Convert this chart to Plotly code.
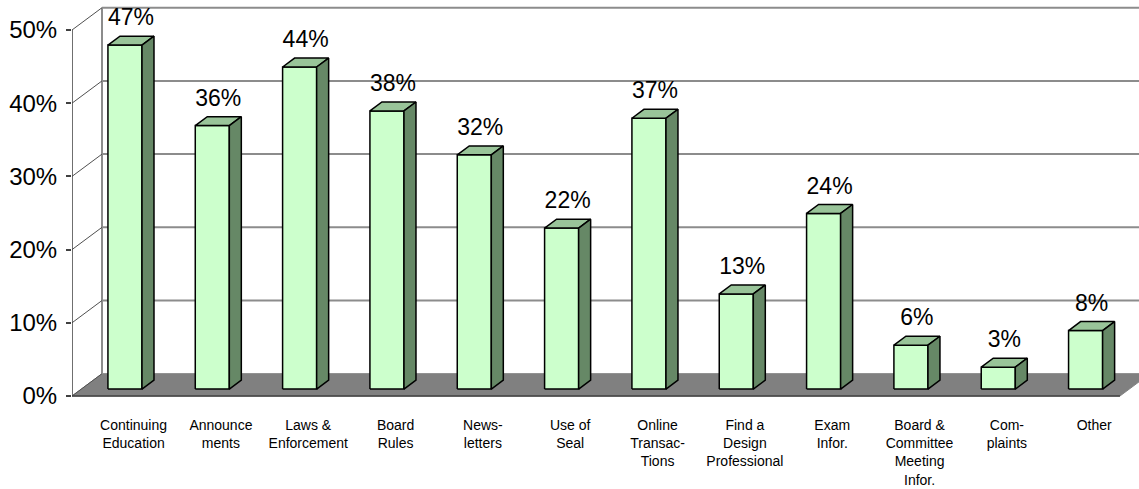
import plotly.graph_objects as go

# ---- data ----
categories = ["Continuing<br>Education", "Announce<br>ments", "Laws &<br>Enforcement",
              "Board<br>Rules", "News-<br>letters", "Use of<br>Seal",
              "Online<br>Transac-<br>Tions", "Find a<br>Design<br>Professional",
              "Exam<br>Infor.", "Board &<br>Committee<br>Meeting<br>Infor.",
              "Com-<br>plaints", "Other"]
values = [47, 36, 44, 38, 32, 22, 37, 13, 24, 6, 3, 8]
y_ticks = [0, 10, 20, 30, 40, 50]
y_tick_labels = ["0%", "10%", "20%", "30%", "40%", "50%"]

# ---- layout geometry ----
W, H = 1139, 489
ML, MR, MT, MB = 72, 0, 0, 89
PX_CAT = 87.33      # pixels per category
PX_PCT = 7.32       # pixels per percent
DX = 30.0 / PX_CAT  # depth offset (x units) for full depth
DY = 22.3 / PX_PCT  # depth offset (y units) for full depth
n = len(categories)
x_range = [0, (W - ML - MR) / PX_CAT]
y_range = [-4 / PX_PCT, (H - MT - MB - 4) / PX_PCT]

FRONT = "#CCFFCC"
TOP = "#99C499"
SIDE = "#668866"
FLOOR = "#808080"
GRID = "#8C8C8C"
FONT = "Liberation Sans, Arial, sans-serif"

X0F, X1F = 0.305, 0.695   # bar span within category
D0, D1 = 0.31, 0.71       # bar depth span
LABEL_GAP = 0.7           # gap above bar top (in % units)


def P(xc, d, v):
    return xc + DX * d, v + DY * d


def poly(pts):
    xs, ys = [], []
    for p in pts:
        x, y = P(*p)
        xs.append(x)
        ys.append(y)
    x, y = P(*pts[0])
    xs.append(x)
    ys.append(y)
    return xs, ys


fig = go.Figure()

# floor
fx, fy = poly([(0, 0, 0), (n, 0, 0), (n, 1, 0), (0, 1, 0)])
fig.add_trace(go.Scatter(x=fx, y=fy, mode="lines", fill="toself", fillcolor=FLOOR,
                         line=dict(color=FLOOR, width=1), hoverinfo="skip", showlegend=False))

# back wall gridlines
gx, gy = [], []
for v in y_ticks[1:]:
    a = P(0, 1, v)
    b = P(x_range[1] + 1, 1, v)
    gx += [a[0], b[0], None]
    gy += [a[1], b[1], None]
a = P(0, 1, 0)
b = P(0, 1, y_ticks[-1])
gx += [a[0], b[0], None]
gy += [a[1], b[1], None]
fig.add_trace(go.Scatter(x=gx, y=gy, mode="lines", line=dict(color=GRID, width=2),
                         hoverinfo="skip", showlegend=False))

# left side wall diagonals
dx_, dy_ = [], []
for v in y_ticks:
    a = P(0, 0, v)
    b = P(0, 1, v)
    dx_ += [a[0], b[0], None]
    dy_ += [a[1], b[1], None]
fig.add_trace(go.Scatter(x=dx_, y=dy_, mode="lines", line=dict(color="#505050", width=1),
                         hoverinfo="skip", showlegend=False))

# front axis line and floor front edge
a = P(0, 0, y_ticks[-1])
o = P(0, 0, 0)
e = P(n, 0, 0)
fig.add_trace(go.Scatter(x=[a[0], o[0], e[0]], y=[a[1], o[1], e[1]], mode="lines",
                         line=dict(color="#404040", width=1.5), hoverinfo="skip", showlegend=False))

# bars
frx, fry, tpx, tpy, sdx, sdy = [], [], [], [], [], []
for i, v in enumerate(values):
    x0, x1 = i + X0F, i + X1F
    xs, ys = poly([(x0, D0, 0), (x1, D0, 0), (x1, D0, v), (x0, D0, v)])
    frx += xs + [None]; fry += ys + [None]
    xs, ys = poly([(x0, D0, v), (x1, D0, v), (x1, D1, v), (x0, D1, v)])
    tpx += xs + [None]; tpy += ys + [None]
    xs, ys = poly([(x1, D0, 0), (x1, D1, 0), (x1, D1, v), (x1, D0, v)])
    sdx += xs + [None]; sdy += ys + [None]

for xs, ys, col in [(frx, fry, FRONT), (tpx, tpy, TOP), (sdx, sdy, SIDE)]:
    fig.add_trace(go.Scatter(x=xs, y=ys, mode="lines", fill="toself", fillcolor=col,
                             line=dict(color="black", width=1.5), hoverinfo="skip",
                             showlegend=False))

# data labels
lx, ly = [], []
for i, v in enumerate(values):
    p = P(i + 0.5, D1, v)
    lx.append(p[0] + DX * (D0 + D1) / 2 - DX * D1)
    ly.append(p[1] + LABEL_GAP)
fig.add_trace(go.Scatter(x=lx, y=ly, mode="text", text=[f"{v}%" for v in values],
                         textposition="top center",
                         textfont=dict(family=FONT, size=23, color="black"),
                         hoverinfo="skip", showlegend=False, cliponaxis=False))

label_pos = [i + 0.5 + DX * (D0 + D1) / 2 + 0.03 for i in range(n)]

fig.update_layout(
    width=W, height=H,
    margin=dict(l=ML, r=MR, t=MT, b=MB, autoexpand=False),
    plot_bgcolor="white", paper_bgcolor="white",
    font=dict(family=FONT, color="black"),
    xaxis=dict(range=x_range, showgrid=False, zeroline=False, showline=False,
               automargin=False,
               tickmode="array", tickvals=label_pos, ticktext=categories,
               ticks="", tickfont=dict(size=14, family=FONT), ticklabelstandoff=15,
               fixedrange=True),
    yaxis=dict(range=y_range, showgrid=False, zeroline=False, showline=False,
               automargin=False,
               tickmode="array", tickvals=y_ticks, ticktext=y_tick_labels,
               ticks="outside", ticklen=5, tickcolor="#404040", tickwidth=1.5,
               tickfont=dict(size=24, family=FONT), ticklabelstandoff=4,
               fixedrange=True),
)

fig.write_html("out.html", config={"displayModeBar": False},
               post_script="document.body.style.margin='0px';document.body.style.overflow='hidden';")
